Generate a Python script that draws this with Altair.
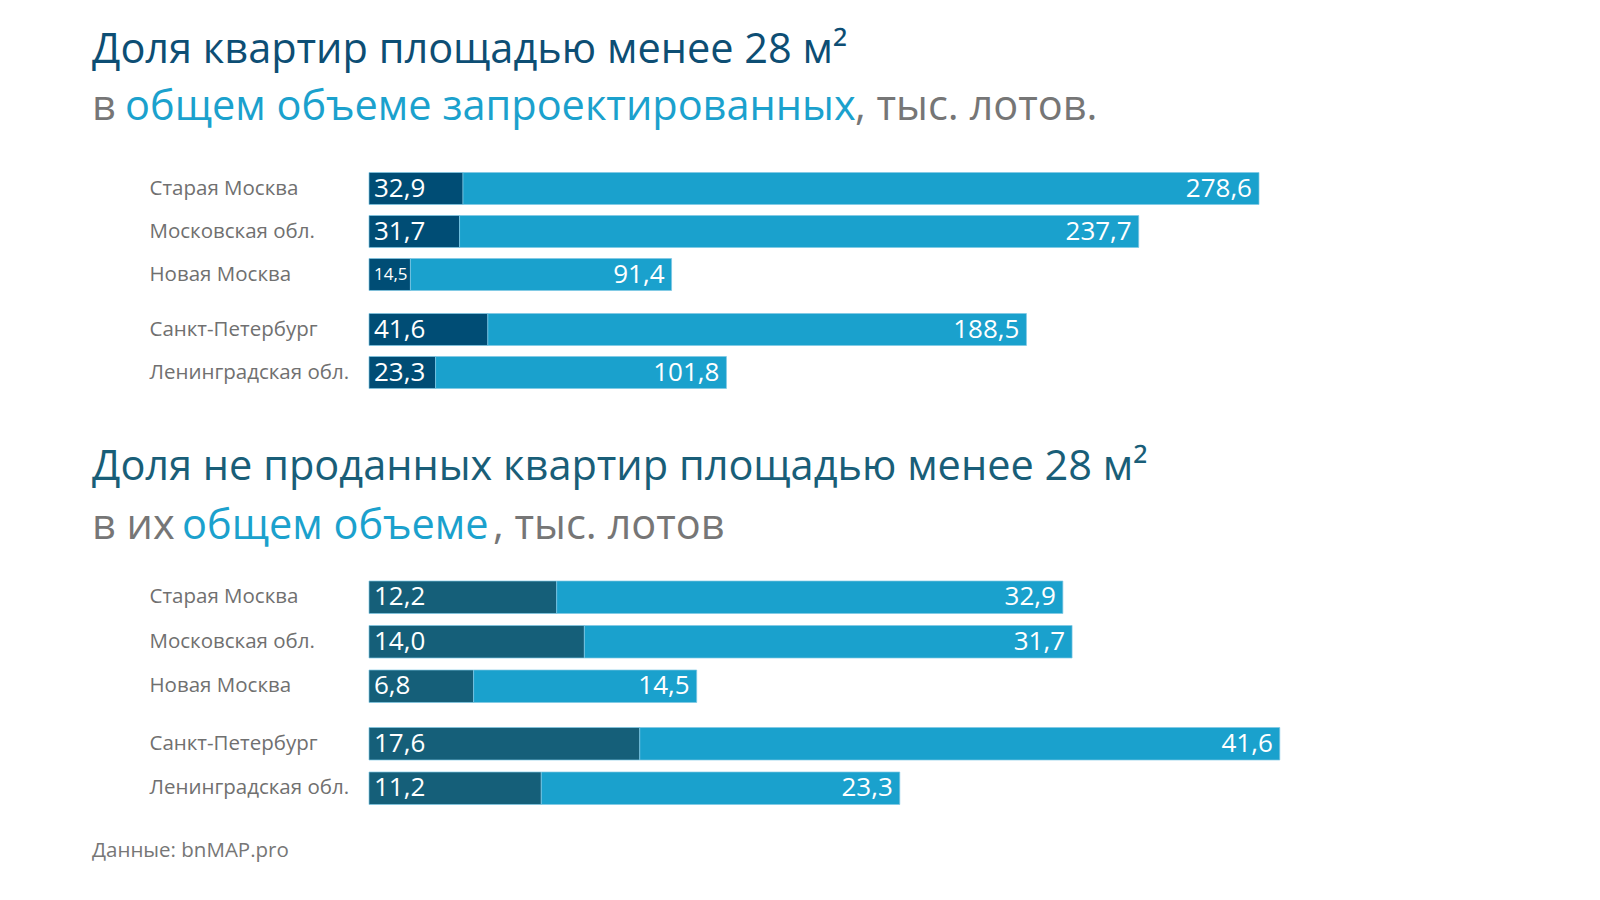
import altair as alt
import pandas as pd

# ---------------- data ----------------
regions = ["Старая Москва", "Московская обл.", "Новая Москва", "Санкт-Петербург", "Ленинградская обл."]
groups = ["Москва", "Москва", "Москва", "Петербург", "Петербург"]
group_order = ["Москва", "Петербург"]

top_small = [32.9, 31.7, 14.5, 41.6, 23.3]
top_total = [278.6, 237.7, 91.4, 188.5, 101.8]
bottom_small = [12.2, 14.0, 6.8, 17.6, 11.2]
bottom_total = [32.9, 31.7, 14.5, 41.6, 23.3]

title1_line1 = ["Доля квартир площадью менее 28 м²"]
title1_line2 = ["в ", "общем объеме запроектированных", ", тыс. лотов."]
title2_line1 = ["Доля не проданных квартир площадью менее 28 м²"]
title2_line2 = ["в их ", "общем объеме", ", тыс. лотов"]
source_text = ["Данные: bnMAP.pro"]

# ---------------- style ----------------
FONT = "Open Sans"
GREY = "#767676"
LABEL_GREY = "#707070"
BLUE = "#1ba1cd"
LIGHT = "#1aa1cd"
EDGE = "#7fc8e4"
W = 1000
X0 = -277  # title left offset relative to plot origin
TITLE_SIZE = 41.5


def section(small, total, dark, step, pin, gap, xmax, small_font_below):
    df = pd.DataFrame({"region": regions, "group": groups, "small": small, "total": total})
    base = alt.Chart(df).transform_calculate(
        end="datum.small + datum.total",
        small_lbl="replace(format(datum.small, '.1f'), '.', ',')",
        total_lbl="replace(format(datum.total, '.1f'), '.', ',')",
    )
    y = alt.Y(
        "region:N",
        sort=regions,
        title=None,
        scale=alt.Scale(paddingInner=pin, paddingOuter=pin / 2),
        axis=alt.Axis(
            ticks=False, domain=False, grid=False, labelAlign="left", labelPadding=220,
            labelFont=FONT, labelFontSize=20.5, labelColor=LABEL_GREY, labelLimit=0,
        ),
    )
    xs = alt.Scale(domain=[0, xmax], nice=False, zero=True)
    dark_bar = base.mark_bar(color=dark, stroke=EDGE, strokeWidth=1, strokeOpacity=0.7).encode(
        x=alt.X("small:Q", scale=xs, axis=None), y=y
    )
    light_bar = base.mark_bar(color=LIGHT, stroke=EDGE, strokeWidth=1, strokeOpacity=0.7).encode(
        x=alt.X("small:Q", scale=xs, axis=None), x2="end:Q", y=y
    )
    dark_txt = base.mark_text(
        align="left", baseline="middle", dx=5, color="white", font=FONT
    ).encode(
        x=alt.datum(0),
        y=y,
        text="small_lbl:N",
        size=alt.condition(alt.datum.small < small_font_below, alt.value(17), alt.value(26)),
    )
    light_txt = base.mark_text(
        align="right", baseline="middle", dx=-7, color="white", font=FONT, fontSize=26
    ).encode(x="end:Q", y=y, text="total_lbl:N")
    return (
        alt.layer(dark_bar, light_bar, dark_txt, light_txt)
        .properties(width=W, height=alt.Step(step))
        .facet(row=alt.Row("group:N", header=None, sort=group_order), spacing=gap)
        .resolve_scale(y="independent")
    )


def title_panel(line1, line2, c1, xs2, y1, y2, h):
    df = pd.DataFrame({"l1": line1, "a": [line2[0]], "b": [line2[1]], "c": [line2[2]]})
    base = alt.Chart(df)
    common = dict(align="left", baseline="alphabetic", font=FONT, fontSize=TITLE_SIZE)
    t1 = base.mark_text(color=c1, **common).encode(x=alt.value(X0), y=alt.value(y1), text="l1:N")
    ta = base.mark_text(color=GREY, **common).encode(x=alt.value(xs2[0]), y=alt.value(y2), text="a:N")
    tb = base.mark_text(color=BLUE, **common).encode(x=alt.value(xs2[1]), y=alt.value(y2), text="b:N")
    tc = base.mark_text(color=GREY, **common).encode(x=alt.value(xs2[2]), y=alt.value(y2), text="c:N")
    return alt.layer(t1, ta, tb, tc).properties(width=W, height=h)


title1 = title_panel(title1_line1, title1_line2, "#0d4e74", [X0, -244, 486], 55, 112, 158.5)
sec1 = section(top_small, top_total, "#004d75", 43, 0.256, 12, 350.0, 20)
title2 = title_panel(title2_line1, title2_line2, "#195e78", [X0, -187, 124], 86, 145, 181)
sec2 = section(bottom_small, bottom_total, "#155f79", 44.5, 0.27, 12.5, 65.0, 0)

src = (
    alt.Chart(pd.DataFrame({"s": source_text}))
    .mark_text(align="left", baseline="alphabetic", font=FONT, fontSize=20.5, color=GREY)
    .encode(x=alt.value(X0), y=alt.value(45.5), text="s:N")
    .properties(width=W, height=60)
)

chart = (
    alt.vconcat(title1, sec1, title2, sec2, src, spacing=0)
    .properties(padding={"left": 84, "top": 0, "right": 0, "bottom": 0})
    .configure_view(stroke=None)
)

chart.save("out.html", embed_options={"renderer": "svg", "actions": False})
